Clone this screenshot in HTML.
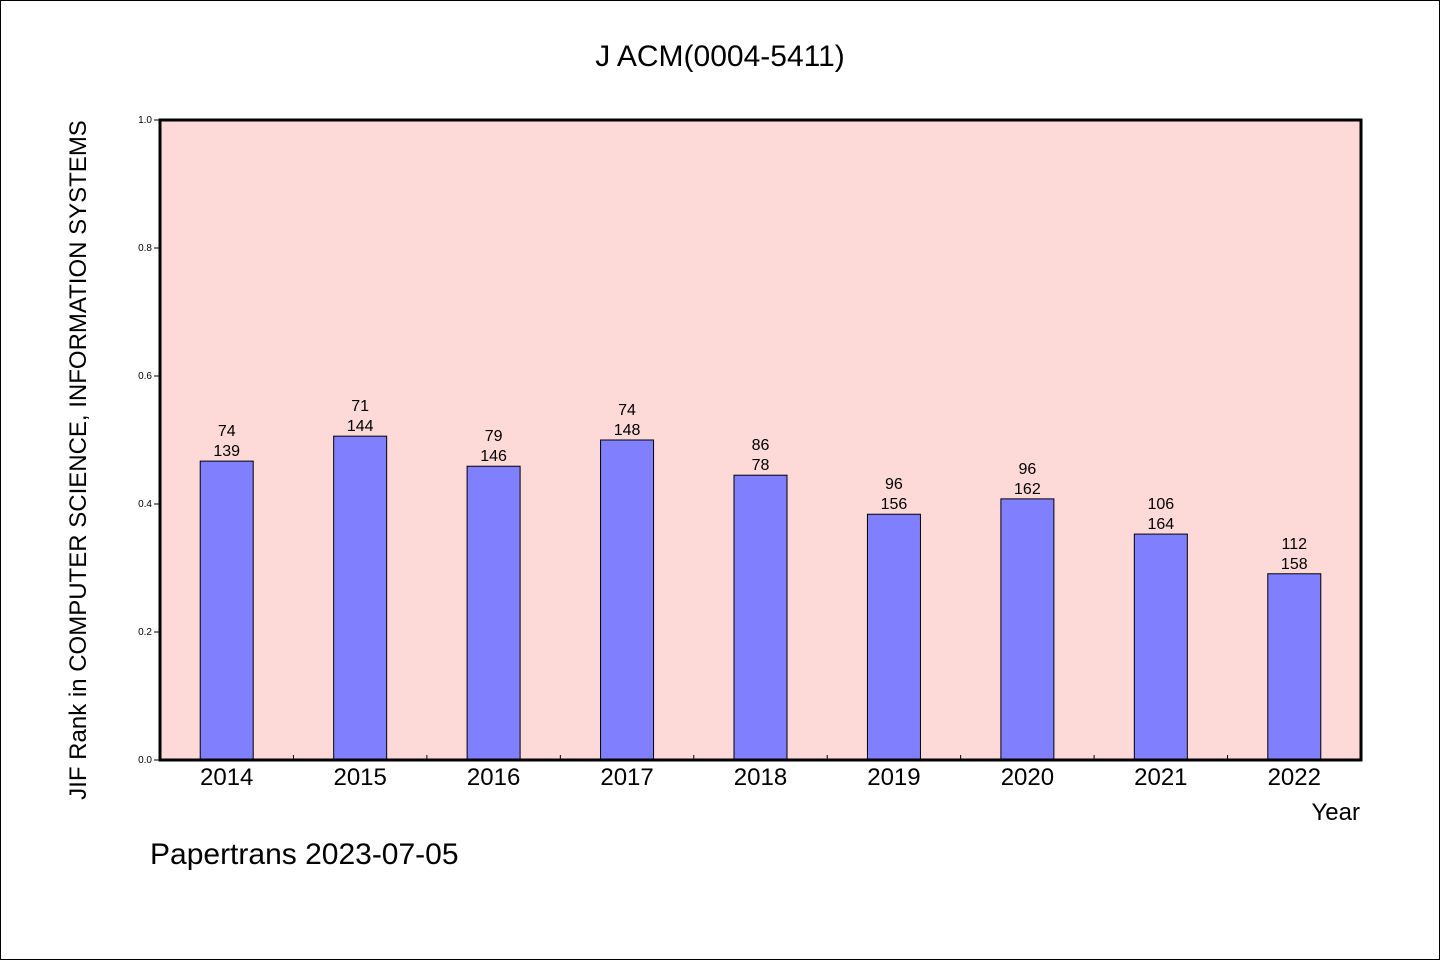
<!DOCTYPE html>
<html><head><meta charset="utf-8"><style>
body{margin:0;background:#fff}
svg text{font-family:"WenQuanYi Zen Hei","Liberation Sans",sans-serif}
</style></head><body>
<svg width="1440" height="960" xmlns="http://www.w3.org/2000/svg">
<rect x="0.5" y="0.5" width="1439" height="959" fill="#fff" stroke="#000"/>
<text x="720" y="66" font-size="30" text-anchor="middle">J ACM(0004-5411)</text>
<rect x="160" y="120" width="1201" height="640" fill="#fddad7"/>
<g id="marks"></g>
<rect x="160" y="120" width="1201" height="640" fill="none" stroke="#000" stroke-width="3"/>
<text transform="translate(86,460) rotate(-90)" font-size="24" text-anchor="middle">JIF Rank in COMPUTER SCIENCE, INFORMATION SYSTEMS</text>
<text x="1360" y="820" font-size="24" text-anchor="end">Year</text>
<text x="150" y="864" font-size="30">Papertrans 2023-07-05</text>
</svg>
<script>
const years=["2014","2015","2016","2017","2018","2019","2020","2021","2022"];
const values=[0.467,0.506,0.459,0.5,0.445,0.384,0.408,0.353,0.291];
const ranks=["74","71","79","74","86","96","96","106","112"];
const totals=["139","144","146","148","78","156","162","164","158"];
const yTicks=["0.0","0.2","0.4","0.6","0.8","1.0"];
const X0=160,X1=1361,Y0=760,Y1=120;
const bw=(X1-X0)/years.length;
const y=v=>Y0-(v)*(Y0-Y1);
const xc=i=>X0+bw*(i+0.5);
const g=document.getElementById('marks');
const NS="http://www.w3.org/2000/svg";
function mk(t,a){const e=document.createElementNS(NS,t);for(const k in a)e.setAttribute(k,a[k]);g.appendChild(e);return e;}
yTicks.forEach(t=>{const v=parseFloat(t);
 const l=mk('line',{x1:X0-6,x2:X0,y1:y(v),y2:y(v),stroke:'#000'});
 
 
 const tx=mk('text',{x:X0-8,y:y(v)+3,'font-size':10,'text-anchor':'end'});tx.textContent=t;
 
 
});
years.forEach((yr,i)=>{
 const b=mk('rect',{x:xc(i)-26.5,y:y(values[i]),width:53,height:Y0-y(values[i]),fill:'#8080ff',stroke:'#000'});
 
 
 const t1=mk('text',{x:xc(i),y:y(values[i])-25,'font-size':16,'text-anchor':'middle'});t1.textContent=ranks[i];
 
 
 const t2=mk('text',{x:xc(i),y:y(values[i])-5,'font-size':16,'text-anchor':'middle'});t2.textContent=totals[i];
 
 
 const xl=mk('text',{x:xc(i),y:785,'font-size':24,'text-anchor':'middle'});xl.textContent=yr;
 
 
 if(i>0){const tk=mk('line',{x1:X0+bw*i,x2:X0+bw*i,y1:Y0,y2:Y0-5,stroke:'#000'});
 
 }
});
</script>
</body></html>
